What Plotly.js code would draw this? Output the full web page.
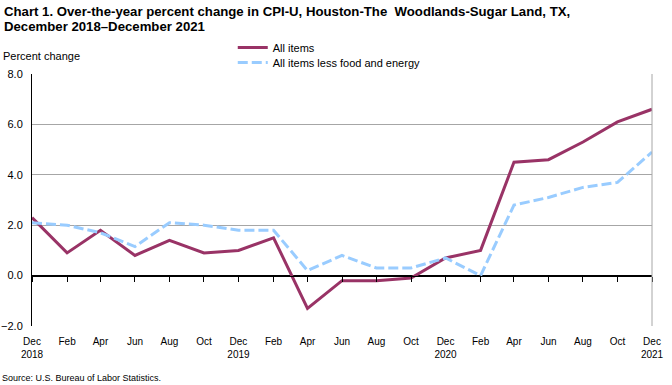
<!DOCTYPE html>
<html>
<head>
<meta charset="utf-8">
<script src="https://cdn.plot.ly/plotly-3.0.1.min.js"></script>
<style>html,body{margin:0;padding:0;background:#fff;}#chart{width:672px;height:385px;}</style>
</head>
<body>
<div id="chart"></div>
<script>
const months = ["2018-12","2019-02","2019-04","2019-06","2019-08","2019-10","2019-12","2020-02","2020-04","2020-06","2020-08","2020-10","2020-12","2021-02","2021-04","2021-06","2021-08","2021-10","2021-12"];
const tickLabels = ["Dec<br>2018","Feb","Apr","Jun","Aug","Oct","Dec<br>2019","Feb","Apr","Jun","Aug","Oct","Dec<br>2020","Feb","Apr","Jun","Aug","Oct","Dec<br>2021"];
const allItems = [2.3,0.9,1.8,0.8,1.4,0.9,1.0,1.5,-1.3,-0.2,-0.2,-0.1,0.7,1.0,4.5,4.6,5.3,6.1,6.6];
const coreItems = [2.1,2.0,1.7,1.15,2.1,2.0,1.8,1.8,0.2,0.8,0.3,0.3,0.7,0.0,2.8,3.1,3.5,3.7,4.9];
const yTicks = [-2,0,2,4,6,8];
const titleLines = ["Chart 1. Over-the-year percent change in CPI-U, Houston-The  Woodlands-Sugar Land, TX,", "December 2018\u2013December 2021"];

const FONT = "'Liberation Sans', Arial, sans-serif";
const NARROW = "'Liberation Sans Narrow', 'Arial Narrow', 'Liberation Sans', Arial, sans-serif";
const range = [months[0], months[months.length-1]];

const traces = [
  {x: months, y: allItems, name: "All items", type: "scatter", mode: "lines",
   line: {color: "#993366", width: 3}, legend: "legend"},
  {x: months, y: coreItems, name: "All items less food and energy", type: "scatter", mode: "lines",
   line: {color: "#99ccff", width: 3, dash: "10px,4px"}, legend: "legend2"}
];

const legendBase = {x: 0.3238, xanchor: "left", yanchor: "top", bgcolor: "rgba(0,0,0,0)",
  font: {family: FONT, size: 11, color: "#000"}};

const layout = {
  width: 672, height: 385,
  margin: {l: 32, r: 20, t: 74, b: 59},
  paper_bgcolor: "#fff", plot_bgcolor: "#fff",
  font: {family: FONT, size: 11, color: "#000"},
  xaxis: {type: "date", range: range, tickvals: months, ticktext: tickLabels,
    showgrid: false, zeroline: false, showline: false, ticks: "", ticklabelstandoff: 8,
    tickfont: {family: NARROW, size: 10}, fixedrange: true},
  xaxis2: {type: "date", range: range, tickvals: months, showticklabels: false,
    overlaying: "x", anchor: "free", position: 0.2, side: "bottom",
    showline: true, linecolor: "#000", linewidth: 1, ticks: "outside", ticklen: 5, tickcolor: "#000",
    showgrid: false, zeroline: false},
  yaxis: {range: [-2, 8], tickvals: yTicks, tickformat: ".1f", showgrid: true, gridcolor: "#a6a6a6",
    gridwidth: 1, zeroline: true, zerolinecolor: "#000", zerolinewidth: 1,
    showline: true, linecolor: "#000", linewidth: 1, ticks: "", ticklabelstandoff: 6,
    tickfont: {family: FONT, size: 11}},
  legend: Object.assign({y: 1.1627}, legendBase),
  legend2: Object.assign({y: 1.1032}, legendBase),
  showlegend: true,
  shapes: [
    {type: "line", xref: "paper", yref: "paper", x0: 1, x1: 1, y0: 0, y1: 1,
     line: {color: "#a6a6a6", width: 1}}
  ],
  annotations: [
    {text: "<b>" + titleLines[0] + "</b>", xref: "paper", yref: "paper", x: -0.0484, y: 1.2857,
     xanchor: "left", yanchor: "top", showarrow: false, font: {family: FONT, size: 13.2, color: "#000"}},
    {text: "<b>" + titleLines[1] + "</b>", xref: "paper", yref: "paper", x: -0.0484, y: 1.2262,
     xanchor: "left", yanchor: "top", showarrow: false, font: {family: FONT, size: 13.2, color: "#000"}},
    {text: "Percent change", xref: "paper", yref: "paper", x: -0.05, y: 1.0734, xanchor: "left", yanchor: "middle",
     showarrow: false, font: {family: FONT, size: 11}},
    {text: "Source: U.S. Bureau of Labor Statistics.", xref: "paper", yref: "paper", x: -0.0516, y: -0.2063,
     xanchor: "left", yanchor: "middle", showarrow: false, font: {family: NARROW, size: 9}}
  ]
};

const dummy = {x: range, y: [null, null], xaxis: "x2", yaxis: "y", showlegend: false, hoverinfo: "skip", type: "scatter", mode: "lines"};

Plotly.newPlot("chart", traces.concat([dummy]), layout, {displayModeBar: false, staticPlot: true});
</script>
</body>
</html>
